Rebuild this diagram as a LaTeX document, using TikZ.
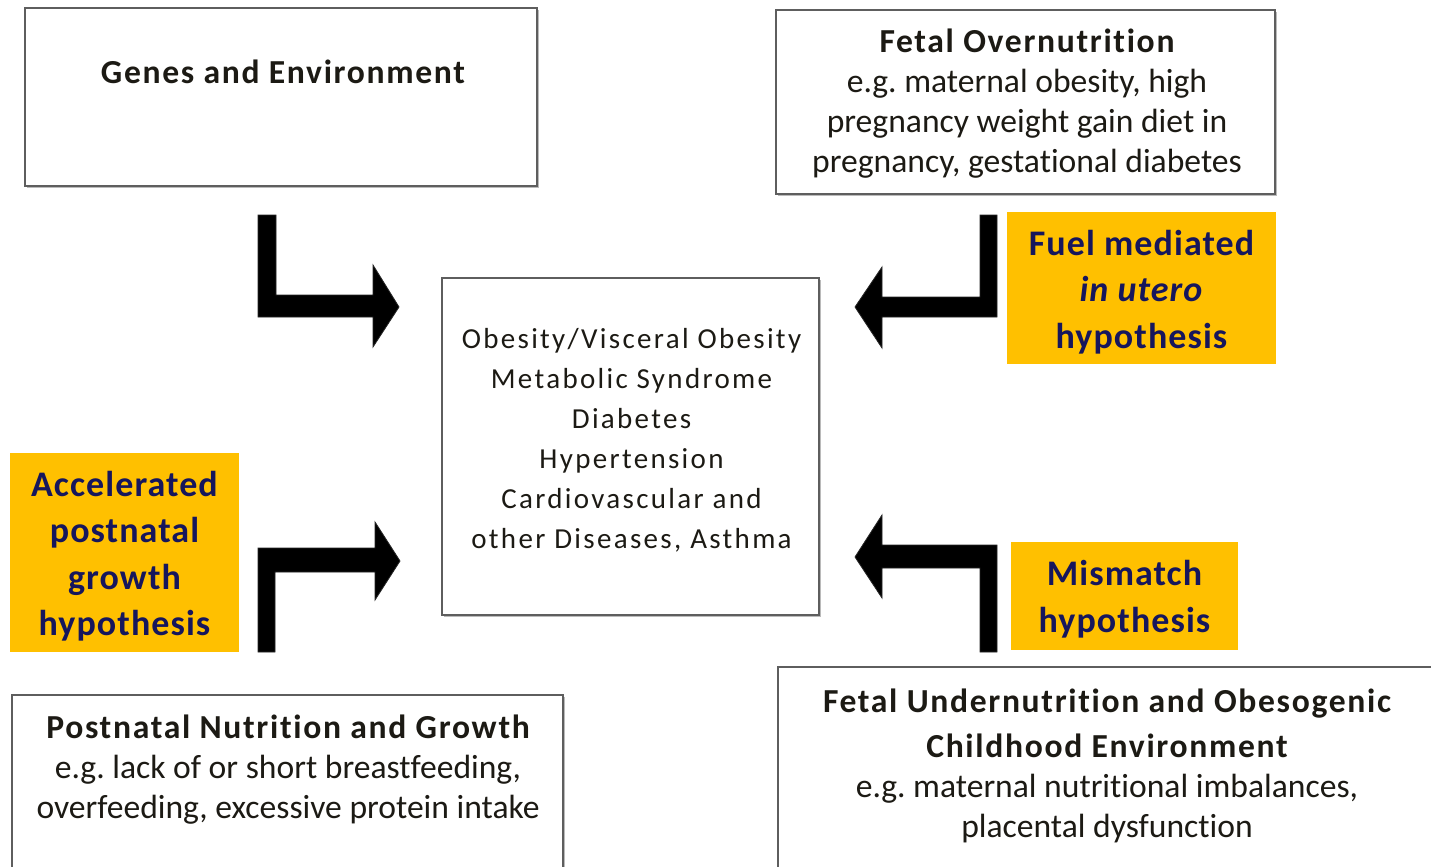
\documentclass[tikz,border=0pt]{standalone}
\usepackage{fontspec}
\setmainfont{Carlito}[Ligatures={NoCommon}]
\usetikzlibrary{shadows}
\frenchspacing
\definecolor{gold}{HTML}{FFC000}
\definecolor{navy}{HTML}{16165C}
\definecolor{ink}{HTML}{1C1A14}
\definecolor{frame}{HTML}{5E5E5E}
\newcommand{\headline}[1]{{\bfseries\addfontfeatures{LetterSpace=5}#1}}
\tikzset{
  whitebox/.style={draw=frame, line width=1.3pt, fill=white, inner sep=0pt,
    drop shadow={shadow xshift=1.2pt, shadow yshift=-1.2pt, opacity=0.45, fill=black!60}},
  goldfill/.style={fill=gold, inner sep=0pt},
  goldtext/.style={text=navy, align=center, inner sep=0pt,
    font=\fontsize{18}{23.25}\selectfont\bfseries\addfontfeatures{LetterSpace=3}},
  bodytext/.style={text=ink, align=center, inner sep=0pt,
    font=\fontsize{16.8}{20}\selectfont},
  centertext/.style={text=ink, align=center, inner sep=0pt,
    font=\fontsize{14.5}{20}\selectfont\addfontfeatures{LetterSpace=8}},
  blockarrow/.style={fill=black, draw=black!85, line width=0.4pt, line join=miter}
}
\begin{document}
\begin{tikzpicture}[x=0.5pt, y=-0.5pt]
\useasboundingbox (0,0) rectangle (1431,867);
\fill[white] (0,0) rectangle (1431,867);

% outer factor boxes
\node[whitebox, minimum width=256pt, minimum height=89pt] (genes) at (281,97) {};
\node[bodytext] (genestxt) at (283,72) {\headline{Genes and Environment}};

\node[whitebox, minimum width=249.5pt, minimum height=92pt] (over) at (1025.5,102) {};
\node[bodytext] (overtxt) at (1027,104) {\headline{Fetal Overnutrition}\\e.g. maternal obesity, high\\pregnancy weight gain diet in\\pregnancy, gestational diabetes};

\node[whitebox, minimum width=275.5pt, minimum height=100pt] (post) at (287.5,795) {};
\node[bodytext] (posttxt) at (288,770) {\headline{Postnatal Nutrition and Growth}\\e.g. lack of or short breastfeeding,\\overfeeding, excessive protein intake};

\node[whitebox, minimum width=331pt, minimum height=112pt] (under) at (1109,779) {};
\node[bodytext] (undertxt) at (1107,766) {\headline{Fetal Undernutrition and Obesogenic}\\[2.5pt]\headline{Childhood Environment}\\e.g. maternal nutritional imbalances,\\placental dysfunction};

% outcomes in the middle
\node[whitebox, minimum width=188.5pt, minimum height=168.5pt] (outcome) at (630.5,446.5) {};
\node[centertext] (outtxt) at (631.5,440) {Obesity/Visceral Obesity\\Metabolic Syndrome\\Diabetes\\Hypertension\\Cardiovascular and\\other Diseases, Asthma};

% hypotheses
\node[goldfill, minimum width=134.5pt, minimum height=76pt] (fuel) at (1141.5,288) {};
\node[goldtext] (fueltxt) at (1141.5,292) {Fuel mediated\\\textit{in utero}\\hypothesis};
\node[goldfill, minimum width=114.5pt, minimum height=99.5pt] (accel) at (124.5,552.5) {};
\node[goldtext] (acceltxt) at (124.5,556) {Accelerated\\postnatal\\growth\\hypothesis};
\node[goldfill, minimum width=113.5pt, minimum height=54pt] (mism) at (1124.5,596) {};
\node[goldtext] (mismtxt) at (1124.5,599) {Mismatch\\hypothesis};

% bent block arrows towards the outcomes
\path[blockarrow] (258,215) -- (276,215) -- (276,295) -- (373,295) -- (373,265)
  -- (399,307) -- (373,347) -- (373,317) -- (258,317) -- cycle;
\path[blockarrow] (997,215) -- (980,215) -- (980,297) -- (882,297) -- (882,267)
  -- (855,307) -- (882,348) -- (882,317) -- (997,317) -- cycle;
\path[blockarrow] (258,652) -- (275,652) -- (275,572) -- (375,572) -- (375,600)
  -- (400,561) -- (375,522) -- (375,548) -- (258,548) -- cycle;
\path[blockarrow] (997,652) -- (980,652) -- (980,568) -- (882,568) -- (882,598)
  -- (855,557) -- (882,515) -- (882,545) -- (997,545) -- cycle;
\end{tikzpicture}
\end{document}
